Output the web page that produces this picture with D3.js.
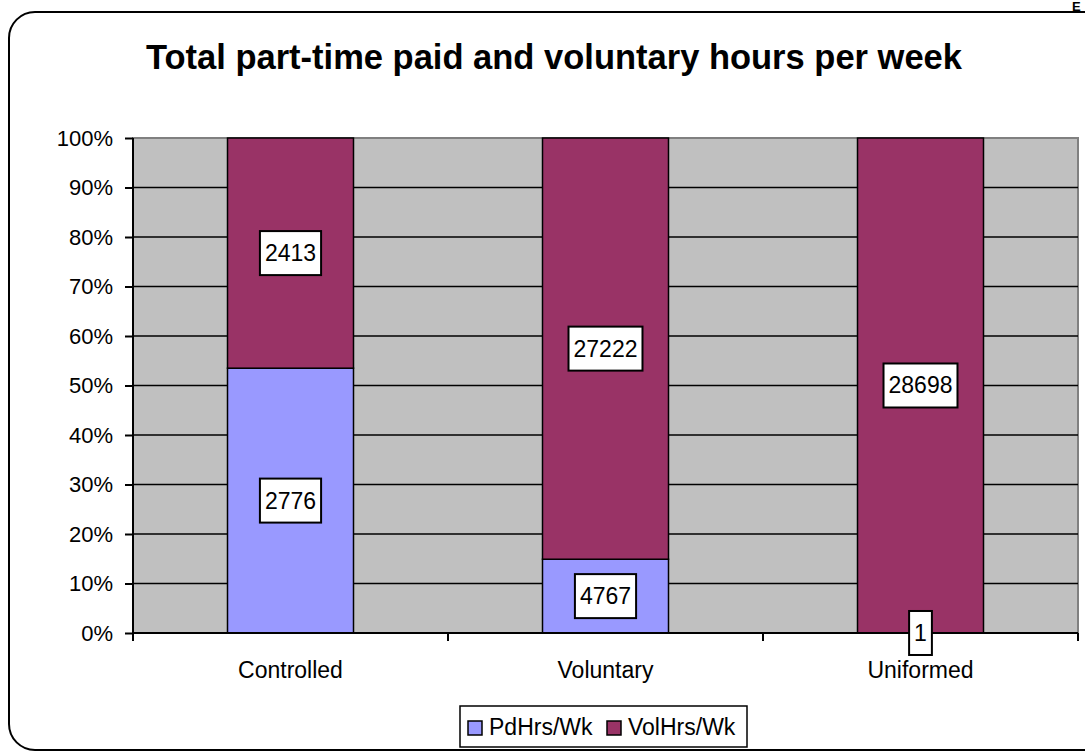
<!DOCTYPE html>
<html>
<head>
<meta charset="utf-8">
<script src="https://cdn.jsdelivr.net/npm/d3@7/dist/d3.min.js"></script>
<style>
  body { margin: 0; background: #fff; }
  svg { display: block; font-family: Arial, "Liberation Sans", sans-serif; }
</style>
</head>
<body>
<svg id="chart"></svg>
<script>
// chart data
const categories = ["Controlled", "Voluntary", "Uniformed"];
const seriesNames = ["PdHrs/Wk", "VolHrs/Wk"];
const pdHrs = [2776, 4767, 1];
const volHrs = [2413, 27222, 28698];
const seriesColors = ["#9999FF", "#993366"];
const yTicks = [0, 0.1, 0.2, 0.3, 0.4, 0.5, 0.6, 0.7, 0.8, 0.9, 1];

const canvasWidth = 1085;
const canvasHeight = 751;
const plotLeft = 133, plotRight = 1078, plotTop = 138, plotBottom = 633;

var svg = d3.select("#chart")
    .attr("width", canvasWidth)
    .attr("height", canvasHeight);

// outer rounded frame (runs off the right edge)
svg.append("rect")
    .attr("x", 9).attr("y", 12)
    .attr("width", 1110).attr("height", 738)
    .attr("rx", 26).attr("ry", 26)
    .attr("fill", "#fff")
    .attr("stroke", "#000")
    .attr("stroke-width", 2);

svg.append("text")
    .text("E")
    .attr("x", 1072).attr("y", 11)
    .style("font-size", "13px")
    .style("font-weight", "bold");

svg.append("text")
    .text("Total part-time paid and voluntary hours per week")
    .attr("x", 554).attr("y", 69)
    .attr("text-anchor", "middle")
    .style("font-size", "34.5px")
    .style("font-weight", "bold");

var rows = categories.map(function(c, i) {
    return { cat: c, "PdHrs/Wk": pdHrs[i], "VolHrs/Wk": volHrs[i] };
});
var stacked = d3.stack().keys(seriesNames).offset(d3.stackOffsetExpand)(rows);

var xScaler = d3.scaleBand().domain(categories).range([plotLeft, plotRight])
    .paddingInner(0.6).paddingOuter(0.3);
var xBounds = d3.scaleLinear().domain([0, categories.length]).range([plotLeft, plotRight]);
var yScaler = d3.scaleLinear().domain([0, 1]).range([plotBottom, plotTop]);

// plot background
svg.append("rect")
    .attr("x", plotLeft).attr("y", plotTop)
    .attr("width", plotRight - plotLeft).attr("height", plotBottom - plotTop)
    .attr("fill", "#C0C0C0")
    .attr("stroke", "#808080")
    .attr("stroke-width", 2);

// gridlines
svg.append("g").selectAll("line").data(yTicks.slice(1, -1))
    .enter().append("line")
    .attr("x1", plotLeft).attr("x2", plotRight)
    .attr("y1", function(d) { return yScaler(d); })
    .attr("y2", function(d) { return yScaler(d); })
    .style("stroke", "#000")
    .style("stroke-width", 1.5);

// bars
var layers = svg.append("g").selectAll("g").data(stacked)
    .enter().append("g")
    .attr("fill", function(d, i) { return seriesColors[i]; });
layers.selectAll("rect").data(function(d) { return d; })
    .enter().append("rect")
    .attr("x", function(d) { return xScaler(d.data.cat); })
    .attr("width", xScaler.bandwidth())
    .attr("y", function(d) { return yScaler(d[1]); })
    .attr("height", function(d) { return yScaler(d[0]) - yScaler(d[1]); })
    .style("stroke", "#000")
    .style("stroke-width", 1.5);

// y axis
var yAxis = d3.axisLeft(yScaler).tickValues(yTicks).tickFormat(d3.format(".0%"))
    .tickSize(8).tickPadding(12);
var yG = svg.append("g").attr("transform", "translate(" + plotLeft + ",0)").call(yAxis);
yG.select(".domain").attr("stroke-width", 2).attr("d", "M0," + plotTop + "V" + plotBottom);
yG.selectAll(".tick line").attr("stroke-width", 2);
yG.selectAll(".tick text").style("font-size", "22px").attr("fill", "#000")
    .style("font-family", "Arial, 'Liberation Sans', sans-serif");

// x axis
var xG = svg.append("g").attr("transform", "translate(0," + plotBottom + ")");
xG.append("line")
    .attr("x1", plotLeft).attr("x2", plotRight)
    .attr("stroke", "#000").attr("stroke-width", 2);
xG.selectAll("line.tk").data(d3.range(categories.length + 1))
    .enter().append("line")
    .attr("class", "tk")
    .attr("x1", function(d) { return xBounds(d); })
    .attr("x2", function(d) { return xBounds(d); })
    .attr("y1", 0).attr("y2", 8)
    .attr("stroke", "#000").attr("stroke-width", 2);
xG.selectAll("text").data(categories)
    .enter().append("text")
    .text(function(d) { return d; })
    .attr("x", function(d) { return xScaler(d) + xScaler.bandwidth() / 2; })
    .attr("y", 45)
    .attr("text-anchor", "middle")
    .style("font-size", "23px");

// data labels
var labels = svg.append("g");
stacked.forEach(function(layer) {
    layer.forEach(function(d) {
        var cx = xScaler(d.data.cat) + xScaler.bandwidth() / 2;
        var cy = (yScaler(d[0]) + yScaler(d[1])) / 2;
        var lg = labels.append("g");
        var t = lg.append("text")
            .text(d.data[layer.key])
            .attr("x", cx).attr("y", cy + 8)
            .attr("text-anchor", "middle")
            .style("font-size", "23px");
        var w = t.node().getBBox().width + 10;
        lg.insert("rect", "text")
            .attr("x", cx - w / 2).attr("y", cy - 22)
            .attr("width", w).attr("height", 44)
            .attr("fill", "#fff")
            .attr("stroke", "#000")
            .attr("stroke-width", 2);
    });
});

// legend
var legend = svg.append("g");
legend.append("rect")
    .attr("x", 460).attr("y", 706)
    .attr("width", 287).attr("height", 41)
    .attr("fill", "#fff").attr("stroke", "#000").attr("stroke-width", 1.5);
var legendX = [468, 607];
seriesNames.forEach(function(name, i) {
    legend.append("rect")
        .attr("x", legendX[i]).attr("y", 721)
        .attr("width", 14).attr("height", 14)
        .attr("fill", seriesColors[i])
        .attr("stroke", "#000").attr("stroke-width", 1.5);
    legend.append("text")
        .text(name)
        .attr("x", legendX[i] + 21).attr("y", 735)
        .style("font-size", "23px");
});
</script>
</body>
</html>
